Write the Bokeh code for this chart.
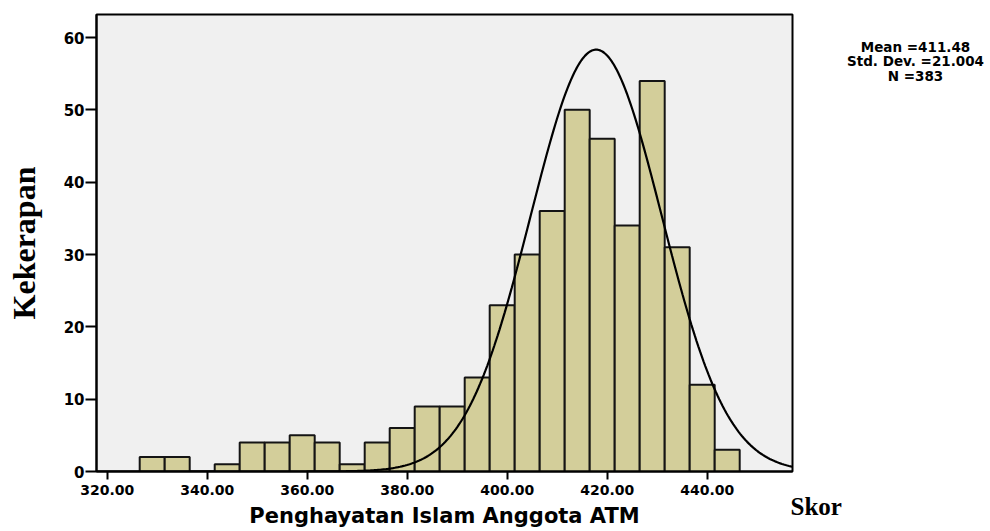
import numpy as np
from bokeh.plotting import figure
from bokeh.models import Range1d, FixedTicker, Label, PrintfTickFormatter, ColumnDataSource
from bokeh.embed import file_html
from bokeh.resources import INLINE

# ---- data ----
bin_lefts = [326.5, 331.5, 336.5, 341.5, 346.5, 351.5, 356.5, 361.5, 366.5, 371.5,
             376.5, 381.5, 386.5, 391.5, 396.5, 401.5, 406.5, 411.5, 416.5, 421.5,
             426.5, 431.5, 436.5, 441.5]
bin_width = 5.0
counts = [2, 2, 0, 1, 4, 4, 5, 4, 1, 4, 6, 9, 9, 13, 23, 30, 36, 50, 46, 34, 54, 31, 12, 3]
x_ticks = [320, 340, 360, 380, 400, 420, 440]
y_ticks = [0, 10, 20, 30, 40, 50, 60]
x_title = "Penghayatan Islam Anggota ATM"
y_title = "Kekerapan"
corner_title = "Skor"
stat_lines = ["Mean =411.48", "Std. Dev. =21.004", "N =383"]
n_total = 383
# normal curve as drawn in the reference
curve_mean = 417.8
curve_sd = 13.1

X_START, X_END = 317.86, 457.06
Y_START, Y_END = 0.0, 63.18
FRAME_L, FRAME_T = 96.0, 14.0      # canvas px of the frame's top-left corner
PX_X = 696 / (X_END - X_START)
PX_Y = 457 / (Y_END - Y_START)


def pos(px, py):
    """canvas pixel -> data coordinates (annotation placement only)"""
    return X_START + (px - FRAME_L) / PX_X, Y_END - (py - FRAME_T) / PX_Y


p = figure(width=990, height=531,
           min_border_left=96, min_border_right=198, min_border_top=14, min_border_bottom=60,
           x_range=Range1d(X_START, X_END), y_range=Range1d(Y_START, Y_END),
           output_backend="svg", toolbar_location=None)
p.background_fill_color = "#f0f0f0"
p.border_fill_color = "white"
p.outline_line_color = "black"
p.outline_line_width = 2
p.xgrid.visible = False
p.ygrid.visible = False

src = ColumnDataSource(dict(left=bin_lefts,
                            right=[b + bin_width for b in bin_lefts],
                            top=counts,
                            bottom=[0] * len(counts)))
p.quad(left="left", right="right", top="top", bottom="bottom", source=src,
       fill_color="#d3ce9a", line_color="#141414", line_width=2)

xs = np.linspace(X_START, X_END, 400)
ys = n_total * bin_width / (curve_sd * np.sqrt(2 * np.pi)) * np.exp(-0.5 * ((xs - curve_mean) / curve_sd) ** 2)
p.line(xs, ys, line_color="black", line_width=2.2)

# axes
for ax in (p.xaxis[0], p.yaxis[0]):
    ax.axis_line_color = "black"
    ax.axis_line_width = 2
    ax.major_tick_line_color = "black"
    ax.major_tick_line_width = 2
    ax.major_tick_in = 0
    ax.minor_tick_line_color = None
    ax.major_label_text_font = "DejaVu Sans"
    ax.major_label_text_font_style = "bold"
    ax.major_label_text_color = "black"
    ax.axis_label_text_color = "black"

p.xaxis.ticker = FixedTicker(ticks=x_ticks)
p.xaxis.formatter = PrintfTickFormatter(format="%.2f")
p.xaxis.major_tick_out = 8
p.xaxis.major_label_standoff = 5
p.xaxis.major_label_text_font_size = "14px"
p.xaxis.axis_label = x_title
p.xaxis.axis_label_text_font = "DejaVu Sans"
p.xaxis.axis_label_text_font_style = "bold"
p.xaxis.axis_label_text_font_size = "21px"
p.xaxis.axis_label_standoff = 6

p.yaxis.ticker = FixedTicker(ticks=y_ticks)
p.yaxis.major_tick_out = 11
p.yaxis.major_label_standoff = 1
p.yaxis.major_label_text_font_size = "15px"
p.yaxis.axis_label = y_title
p.yaxis.axis_label_text_font = "Liberation Serif"
p.yaxis.axis_label_text_font_style = "bold"
p.yaxis.axis_label_text_font_size = "32px"
p.yaxis.axis_label_standoff = 19

# texts outside the frame: placed in the right side panel (not clipped to the frame)
sx, sy = pos(790, 506)
p.add_layout(Label(x=sx, y=sy, text=corner_title, text_align="left", text_baseline="alphabetic",
                   text_font="Liberation Serif", text_font_style="bold",
                   text_font_size="25px", text_color="black"), "right")

mx, my = pos(915, 38.5)
p.add_layout(Label(x=mx, y=my, text="\n".join(stat_lines), text_align="center", text_baseline="top",
                   text_font="DejaVu Sans", text_font_style="bold", text_font_size="13.5px",
                   text_line_height=0.9, text_color="black"), "right")

open("out.html", "w").write(file_html(p, INLINE))
